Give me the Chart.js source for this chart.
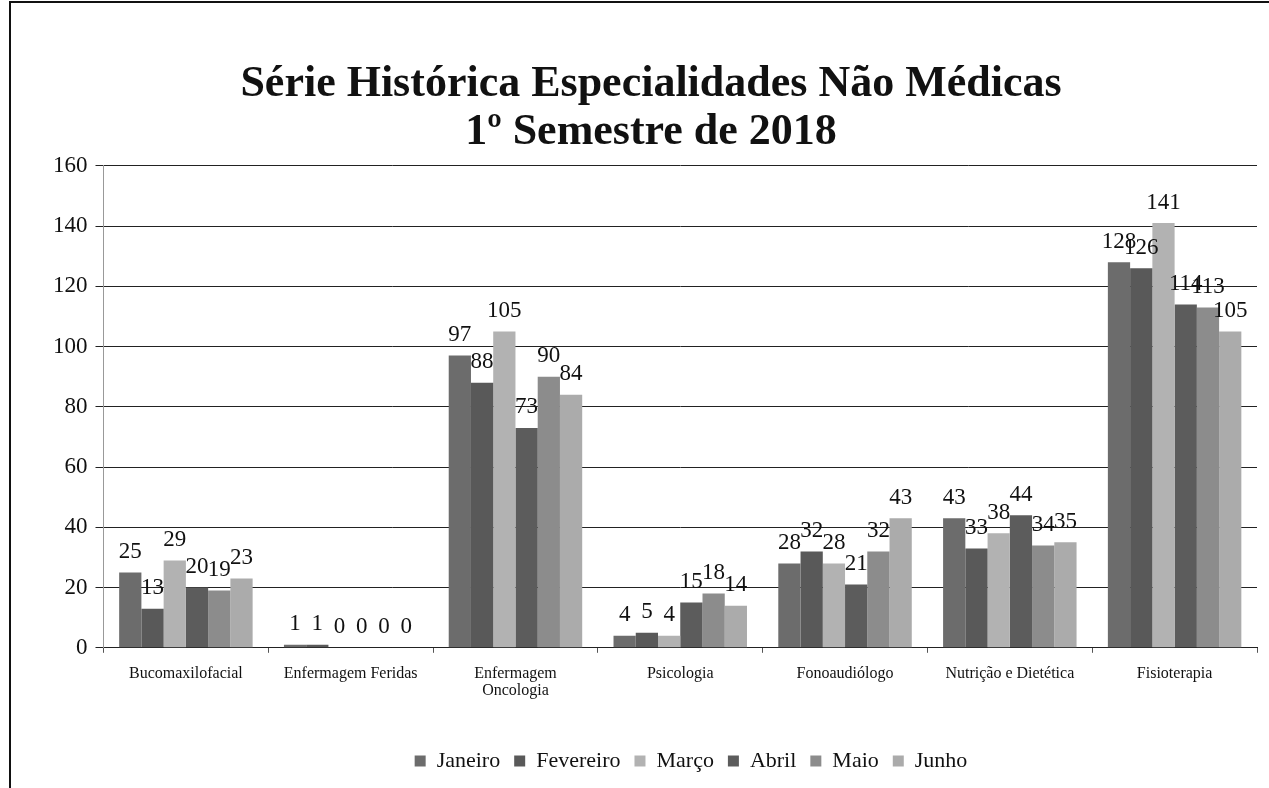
<!DOCTYPE html>
<html>
<head>
<meta charset="utf-8">
<script src="https://cdn.jsdelivr.net/npm/chart.js@4"></script>
<style>
  body { margin: 0; background: #fff; }
  #wrap { position: relative; width: 1269px; height: 788px; }
  #frame { position: absolute; left: 9px; top: 1px; right: 0; bottom: 0;
           border-left: 2px solid #111; border-top: 2px solid #111; pointer-events: none; }
</style>
</head>
<body>
<div id="wrap">
  <canvas id="serieChart" width="1269" height="788"></canvas>
  <div id="frame"></div>
</div>
<script>
const categorias = ["Bucomaxilofacial", "Enfermagem Feridas", ["Enfermagem", "Oncologia"], "Psicologia", "Fonoaudiólogo", "Nutrição e Dietética", "Fisioterapia"]
const meses = ["Janeiro", "Fevereiro", "Março", "Abril", "Maio", "Junho"]
const janeiro = [25, 1, 97, 4, 28, 43, 128]
const fevereiro = [13, 1, 88, 5, 32, 33, 126]
const marco = [29, 0, 105, 4, 28, 38, 141]
const abril = [20, 0, 73, 15, 21, 44, 114]
const maio = [19, 0, 90, 18, 32, 34, 113]
const junho = [23, 0, 84, 14, 43, 35, 105]
const cores = ["#6c6c6c", "#595959", "#b2b2b2", "#5c5c5c", "#8c8c8c", "#ababab"]

const valores = [janeiro, fevereiro, marco, abril, maio, junho]
const serif = "'Liberation Serif', 'Times New Roman', serif"

// numbers over each bar
const rotulos = {
    id: "rotulos",
    afterUpdate(chart) {
        // legend sits a bit right of centre in the original
        if (chart.legend) {
            chart.legend.left += 40
            chart.legend.right += 40
        }
    },
    afterDatasetsDraw(chart) {
        const ctx = chart.ctx
        ctx.save()
        ctx.font = "23px " + serif
        ctx.fillStyle = "#111"
        ctx.textAlign = "center"
        ctx.textBaseline = "bottom"
        chart.data.datasets.forEach((ds, i) => {
            chart.getDatasetMeta(i).data.forEach((bar, j) => {
                ctx.fillText(ds.data[j], bar.x, bar.y - 9)
            })
        })
        ctx.restore()
    }
}

const canvasElement = document.getElementById("serieChart")
var config = {
    type: "bar",
    data: {
        labels: categorias,
        datasets: meses.map((m, i) => ({
            label: m,
            data: valores[i],
            backgroundColor: cores[i],
            borderWidth: 0
        }))
    },
    options: {
        responsive: false,
        animation: false,
        layout: { padding: { left: 45, right: 12, top: 60, bottom: 6 } },
        datasets: { bar: { categoryPercentage: 0.81, barPercentage: 1.0 } },
        plugins: {
            title: {
                display: true,
                text: ["Série Histórica Especialidades Não Médicas", "1º Semestre de 2018"],
                font: { family: serif, size: 44, weight: "bold", lineHeight: 1.1 },
                color: "#111",
                padding: { top: 0, bottom: 9 }
            },
            legend: {
                position: "bottom",
                labels: {
                    font: { family: serif, size: 22 },
                    color: "#111",
                    boxWidth: 11,
                    boxHeight: 11,
                    padding: 14
                }
            },
            tooltip: { enabled: false }
        },
        scales: {
            x: {
                grid: { display: true, drawOnChartArea: false, drawTicks: true, tickLength: 5, color: "#555" },
                border: { color: "#222" },
                ticks: { font: { family: serif, size: 16, lineHeight: 1.1 }, color: "#111", maxRotation: 0, autoSkip: false, padding: 12 },
                afterFit(scale) { scale.height += 24 }
            },
            y: {
                min: 0,
                max: 160,
                ticks: { stepSize: 20, font: { family: serif, size: 23 }, color: "#111", padding: 8 },
                grid: { color: "#222", lineWidth: 1, tickLength: 8 },
                border: { color: "#999" }
            }
        }
    },
    plugins: [rotulos]
}

var serieChart = new Chart(canvasElement, config)
</script>
</body>
</html>
